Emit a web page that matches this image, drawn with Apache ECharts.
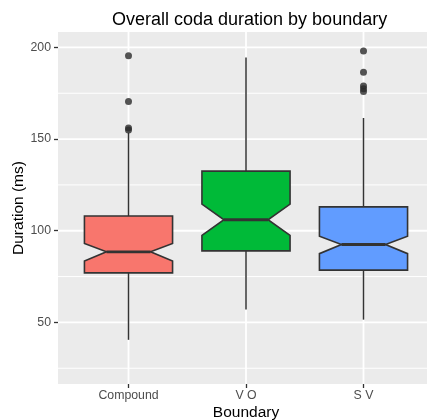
<!DOCTYPE html>
<html>
<head>
<meta charset="utf-8">
<script src="https://cdn.jsdelivr.net/npm/echarts@6/dist/echarts.min.js"></script>
<style>
  html, body { margin: 0; padding: 0; background: #fff; }
  #main { width: 427px; height: 420px; }
</style>
</head>
<body>
<div id="main"></div>
<script>
// values
var categories = ['Compound', 'V O', 'S V'];
var lowerWhisker = [40.5, 57, 51.5];
var q1 = [77, 89, 78.5];
var notchLow = [83.5, 97.5, 87.5];
var median = [88.5, 106, 92.5];
var notchHigh = [93, 114.5, 97];
var q3 = [108, 132.5, 113];
var upperWhisker = [153.5, 194.5, 161.5];
var boxColors = ['#F8766D', '#00BA38', '#619CFF'];
var outlierCat = [1, 1, 1, 1, 3, 3, 3, 3, 3];
var outlierVal = [195.5, 170.5, 156, 155, 198, 186.5, 179, 177.5, 176];
var yTicks = [50, 100, 150, 200];
var yMinor = [25, 75, 125, 175];
var xTicks = [1, 2, 3];

var font = 'Liberation Sans, Arial, sans-serif';

var boxData = categories.map(function (c, i) {
  return [i + 1, lowerWhisker[i], q1[i], notchLow[i], median[i], notchHigh[i], q3[i], upperWhisker[i], i];
});
var outlierData = outlierVal.map(function (v, i) { return [outlierCat[i], v]; });

var gridData = [];
yMinor.forEach(function (v) { gridData.push([0, v, 1]); });
yTicks.forEach(function (v) { gridData.push([0, v, 1.8]); });
xTicks.forEach(function (v) { gridData.push([1, v, 1.8]); });

var halfW = 0.375;

function renderGrid(params, api) {
  var cs = params.coordSys;
  var dir = api.value(0), v = api.value(1), w = api.value(2);
  var shape;
  if (dir === 0) {
    var y = api.coord([1, v])[1];
    shape = { x1: cs.x, y1: y, x2: cs.x + cs.width, y2: y };
  } else {
    var x = api.coord([v, 100])[0];
    shape = { x1: x, y1: cs.y, x2: x, y2: cs.y + cs.height };
  }
  return { type: 'line', shape: shape, style: { stroke: '#FFFFFF', lineWidth: w } };
}

function renderBox(params, api) {
  var x = api.value(0);
  var i = api.value(8);
  var indent = halfW * 0.5;
  function p(dx, v) { return api.coord([x + dx, v]); }
  var lw = api.value(1), lo = api.value(2), nl = api.value(3), md = api.value(4),
      nh = api.value(5), hi = api.value(6), uw = api.value(7);
  var poly = [
    p(-halfW, hi), p(-halfW, nh), p(-halfW + indent, md), p(-halfW, nl), p(-halfW, lo),
    p(halfW, lo), p(halfW, nl), p(halfW - indent, md), p(halfW, nh), p(halfW, hi)
  ];
  var stroke = '#333333';
  return {
    type: 'group',
    children: [
      { type: 'line', shape: { x1: p(0, hi)[0], y1: p(0, hi)[1], x2: p(0, uw)[0], y2: p(0, uw)[1] },
        style: { stroke: stroke, lineWidth: 1.5 } },
      { type: 'line', shape: { x1: p(0, lo)[0], y1: p(0, lo)[1], x2: p(0, lw)[0], y2: p(0, lw)[1] },
        style: { stroke: stroke, lineWidth: 1.5 } },
      { type: 'polygon', shape: { points: poly },
        style: { fill: boxColors[i], stroke: stroke, lineWidth: 1.6 } },
      { type: 'line', shape: { x1: p(-halfW + indent, md)[0], y1: p(0, md)[1], x2: p(halfW - indent, md)[0], y2: p(0, md)[1] },
        style: { stroke: stroke, lineWidth: 2.8 } }
    ]
  };
}

var chart = echarts.init(document.getElementById('main'));
chart.setOption({
  animation: false,
  textStyle: { fontFamily: font },
  title: {
    text: 'Overall coda duration by boundary',
    left: 107, top: 6,
    textStyle: { fontFamily: font, fontSize: 18, fontWeight: 'normal', color: '#000' }
  },
  grid: {
    left: 58, top: 32, width: 376, height: 352,
    outerBoundsMode: 'none', containLabel: false,
    show: true, backgroundColor: '#EBEBEB', borderWidth: 0
  },
  xAxis: {
    type: 'value', min: 0.4, max: 3.6,
    name: 'Boundary', nameLocation: 'middle', nameGap: 21, nameMoveOverlap: false,
    nameTextStyle: { fontFamily: font, fontSize: 15.5, color: '#000' },
    axisLine: { show: false },
    splitLine: { show: false },
    axisTick: { show: true, customValues: xTicks, length: 4, lineStyle: { color: '#333', width: 1.3 } },
    axisLabel: {
      customValues: xTicks, margin: 6,
      fontFamily: font, fontSize: 12.3, color: '#4D4D4D',
      formatter: function (v) { return categories[Math.round(v) - 1]; }
    }
  },
  yAxis: {
    type: 'value', min: 16.4, max: 208.4,
    name: 'Duration (ms)', nameLocation: 'middle', nameRotate: 90, nameGap: 31, nameMoveOverlap: false,
    nameTextStyle: { fontFamily: font, fontSize: 15.5, color: '#000' },
    axisLine: { show: false },
    splitLine: { show: false },
    axisTick: { show: true, customValues: yTicks, length: 4, lineStyle: { color: '#333', width: 1.3 } },
    axisLabel: {
      customValues: yTicks, margin: 7,
      fontFamily: font, fontSize: 12.3, color: '#4D4D4D'
    }
  },
  series: [
    { type: 'custom', z: 1, silent: true, renderItem: renderGrid, data: gridData, clip: true },
    { type: 'custom', z: 2, silent: true, renderItem: renderBox, data: boxData },
    { type: 'scatter', z: 3, silent: true, data: outlierData, symbolSize: 7,
      itemStyle: { color: '#2B2B2B' } }
  ]
});
</script>
</body>
</html>
